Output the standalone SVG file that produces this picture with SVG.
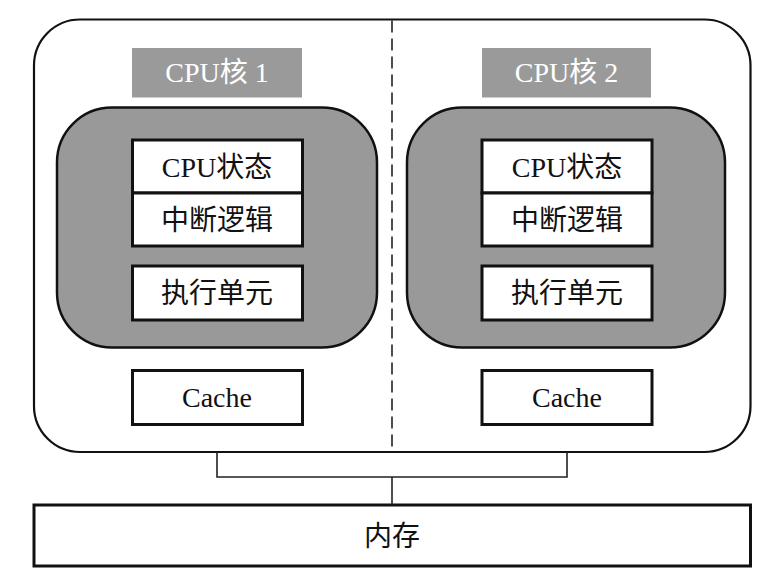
<svg xmlns="http://www.w3.org/2000/svg" width="763" height="580" viewBox="0 0 763 580">
<style>
.bg{fill:#fff}
.outer{fill:#fff;stroke:#111;stroke-width:2.2}
.core{fill:#999;stroke:#111;stroke-width:2.5}
.lbl{fill:#9a9a9a}
.box{fill:#fff;stroke:#111;stroke-width:3}
.t{font-family:"Liberation Serif","Noto Sans CJK SC",serif;font-size:28px;fill:#111;text-anchor:middle}
.tw{fill:#fff}
.line{fill:none;stroke:#222;stroke-width:1.6}
.dash{fill:none;stroke:#222;stroke-width:1.6;stroke-dasharray:12 6}
</style>
<rect class="bg" x="0" y="0" width="763" height="580"/>
<g id="chip">
<rect class="outer" x="34" y="19.5" width="716.5" height="432.5" rx="46" ry="46"/>
</g>
<g id="core1">
<rect class="lbl" x="132" y="48" width="170" height="49.5"/>
<text class="t tw" x="217" y="82">CPU核 1</text>
<rect class="core" x="57" y="107.5" width="320" height="240" rx="55" ry="55"/>
<rect class="box" x="132.5" y="140" width="170" height="53"/>
<text class="t" x="217" y="177">CPU状态</text>
<rect class="box" x="132.5" y="193" width="170" height="53"/>
<text class="t" x="217" y="230">中断逻辑</text>
<rect class="box" x="132.5" y="266" width="170" height="54"/>
<text class="t" x="217" y="303">执行单元</text>
</g>
<g id="cache1">
<rect class="box" x="132.5" y="370.5" width="170" height="54"/>
<text class="t" x="217" y="407">Cache</text>
</g>
<g id="core2">
<rect class="lbl" x="482" y="48" width="169" height="49.5"/>
<text class="t tw" x="566.5" y="82">CPU核 2</text>
<rect class="core" x="407" y="107.5" width="318" height="240" rx="55" ry="55"/>
<rect class="box" x="482" y="140" width="170" height="53"/>
<text class="t" x="567" y="177">CPU状态</text>
<rect class="box" x="482" y="193" width="170" height="53"/>
<text class="t" x="567" y="230">中断逻辑</text>
<rect class="box" x="482" y="266" width="170" height="54"/>
<text class="t" x="567" y="303">执行单元</text>
</g>
<g id="cache2">
<rect class="box" x="482" y="370.5" width="170" height="54"/>
<text class="t" x="567" y="407">Cache</text>
</g>
<g id="memory">
<rect class="box" x="34" y="505" width="716.5" height="61"/>
<text class="t" x="392" y="546">内存</text>
</g>
<g id="connectors">
<line class="dash" x1="392" y1="20.5" x2="392" y2="451"/>
<polyline class="line" points="217,452 217,477 567,477 567,452"/>
<line class="line" x1="392" y1="477" x2="392" y2="505"/>
</g>
</svg>
